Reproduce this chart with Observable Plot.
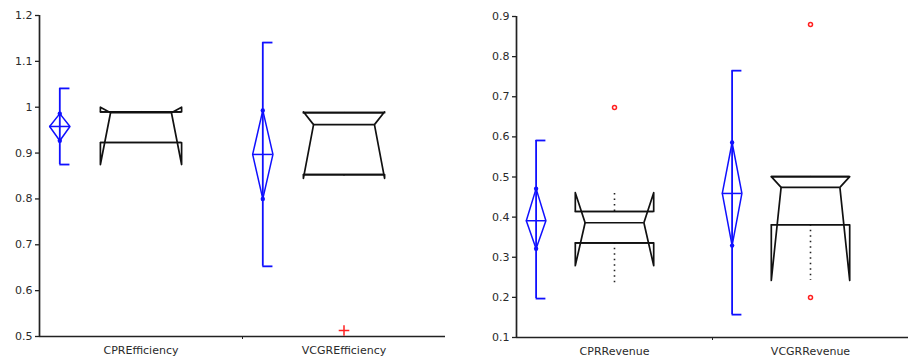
<!DOCTYPE html>
<html>
<head>
<meta charset="utf-8">
<script src="https://cdn.jsdelivr.net/npm/d3@7"></script>
<script src="https://cdn.jsdelivr.net/npm/@observablehq/plot@0.6"></script>
<style>
  html, body { margin: 0; padding: 0; background: #fff; }
  #wrap { display: flex; width: 909px; height: 364px; }
</style>
</head>
<body>
<div id="wrap"></div>
<script>
// ---- Efficiency panel data ----
const effCats = ["CPREfficiency", "VCGREfficiency"];
const effMean = [0.958, 0.897];
const effMeanLo = [0.927, 0.800];
const effMeanHi = [0.986, 0.993];
const effCiLo = [0.875, 0.653];
const effCiHi = [1.041, 1.141];
const effQ1 = [0.923, 0.853];
const effMedian = [0.988, 0.962];
const effQ3 = [0.990, 0.988];
const effNotchLo = [0.875, 0.845];
const effNotchHi = [1.000, 0.990];
const effWhiskLo = [0.923, 0.845];
const effWhiskHi = [0.990, 0.988];
const effOutCat = [1];
const effOutVal = [0.513];
const effTicks = [0.5, 0.6, 0.7, 0.8, 0.9, 1.0, 1.1, 1.2];

// ---- Revenue panel data ----
const revCats = ["CPRRevenue", "VCGRRevenue"];
const revMean = [0.391, 0.459];
const revMeanLo = [0.321, 0.329];
const revMeanHi = [0.471, 0.586];
const revCiLo = [0.197, 0.157];
const revCiHi = [0.591, 0.765];
const revQ1 = [0.336, 0.381];
const revMedian = [0.386, 0.474];
const revQ3 = [0.414, 0.501];
const revNotchLo = [0.279, 0.242];
const revNotchHi = [0.461, 0.501];
const revWhiskLo = [0.234, 0.242];
const revWhiskHi = [0.461, 0.501];
const revOutCat = [0, 1, 1];
const revOutVal = [0.673, 0.880, 0.200];
const revTicks = [0.1, 0.2, 0.3, 0.4, 0.5, 0.6, 0.7, 0.8, 0.9];

function panel(o) {
  const BLUE = "#1010ff";
  const rows = o.cats.map((c, i) => ({
    i, c, x: i + 0.5,
    mean: o.mean[i], mLo: o.mLo[i], mHi: o.mHi[i],
    ciLo: o.ciLo[i], ciHi: o.ciHi[i],
    q1: o.q1[i], med: o.med[i], q3: o.q3[i],
    nLo: o.nLo[i], nHi: o.nHi[i], wLo: o.wLo[i], wHi: o.wHi[i]
  }));
  const dX = -0.4, dw = 0.05, bw = 0.2, nd = 0.05;
  const diamond = rows.flatMap(r => {
    const cx = r.x + dX;
    return [[cx, r.mHi], [cx + dw, r.mean], [cx, r.mLo], [cx - dw, r.mean], [cx, r.mHi]]
      .map(([px, py]) => ({i: r.i, px, py}));
  });
  const box = rows.flatMap(r => {
    const L = r.x - bw, R = r.x + bw;
    return [[L, r.q1], [L, r.nLo], [L + nd, r.med], [L, r.nHi], [L, r.q3],
            [R, r.q3], [R, r.nHi], [R - nd, r.med], [R, r.nLo], [R, r.q1], [L, r.q1]]
      .map(([px, py]) => ({i: r.i, px, py}));
  });
  const outs = o.outCat.map((k, j) => ({x: k + 0.5, v: o.outVal[j]}));
  const y0 = o.domain[0];
  return Plot.plot({
    width: o.width, height: 364,
    marginLeft: o.ml, marginRight: o.mr, marginTop: o.mt, marginBottom: o.mb,
    style: {fontFamily: "DejaVu Sans, Verdana, sans-serif", fontSize: "11px", color: "#222", background: "#fff"},
    x: {domain: [0, 2], axis: null},
    y: {domain: o.domain, axis: null},
    marks: [
      Plot.axisY({ticks: o.ticks, tickSize: 4, tickPadding: 3, tickFormat: d => String(+d.toFixed(1)), stroke: "#222", strokeWidth: 1.3, fontSize: 11, fill: "#2a2a2a"}),
      Plot.ruleX([0], {stroke: "#222", strokeWidth: 1.7}),
      Plot.ruleY([y0], {stroke: "#222", strokeWidth: 1.7}),
      Plot.axisX({ticks: [1], tickSize: 3, tickFormat: () => "", stroke: "#222"}),
      Plot.axisX({ticks: [0.5, 1.5], tickSize: 0, tickPadding: 10, tickFormat: d => o.cats[Math.floor(d)], fontSize: 11, fill: "#2a2a2a"}),
      // blue CI whisker
      Plot.ruleX(rows, {x: r => r.x + dX, y1: "ciLo", y2: "ciHi", stroke: BLUE, strokeWidth: 1.8}),
      Plot.ruleY(rows, {y: "ciLo", x1: r => r.x + dX, x2: r => r.x + dX + dw, stroke: BLUE, strokeWidth: 1.8}),
      Plot.ruleY(rows, {y: "ciHi", x1: r => r.x + dX, x2: r => r.x + dX + dw, stroke: BLUE, strokeWidth: 1.8}),
      // mean diamond
      Plot.line(diamond, {x: "px", y: "py", z: "i", stroke: BLUE, strokeWidth: 1.5, curve: "linear"}),
      Plot.ruleY(rows, {y: "mean", x1: r => r.x + dX - dw, x2: r => r.x + dX + dw, stroke: BLUE, strokeWidth: 1.5}),
      Plot.dot(rows, {x: r => r.x + dX, y: "mHi", r: 2.2, fill: BLUE}),
      Plot.dot(rows, {x: r => r.x + dX, y: "mLo", r: 2.2, fill: BLUE}),
      // dotted whiskers
      Plot.ruleX(rows, {x: "x", y1: "q3", y2: "wHi", stroke: "#222", strokeWidth: 1.6, strokeDasharray: "1.5,4"}),
      Plot.ruleX(rows, {x: "x", y1: "q1", y2: "wLo", stroke: "#222", strokeWidth: 1.6, strokeDasharray: "1.5,4"}),
      // notched box
      Plot.line(box, {x: "px", y: "py", z: "i", stroke: "#111", strokeWidth: 1.7, curve: "linear"}),
      Plot.ruleY(rows, {y: "q3", x1: r => r.x - bw, x2: r => r.x + bw, stroke: "#111", strokeWidth: 1.7}),
      Plot.ruleY(rows, {y: "q1", x1: r => r.x - bw, x2: r => r.x + bw, stroke: "#111", strokeWidth: 1.7}),
      Plot.ruleY(rows, {y: "med", x1: r => r.x - bw + nd, x2: r => r.x + bw - nd, stroke: "#111", strokeWidth: 1.7}),
      // outliers
      Plot.dot(outs, {x: "x", y: "v", symbol: o.outSymbol, r: o.outR, stroke: "#ff2020", strokeWidth: 1.5})
    ]
  });
}

const wrap = document.getElementById("wrap");
wrap.appendChild(panel({
  cats: effCats, mean: effMean, mLo: effMeanLo, mHi: effMeanHi, ciLo: effCiLo, ciHi: effCiHi,
  q1: effQ1, med: effMedian, q3: effQ3, nLo: effNotchLo, nHi: effNotchHi, wLo: effWhiskLo, wHi: effWhiskHi,
  outCat: effOutCat, outVal: effOutVal, outSymbol: "plus", outR: 3.5,
  domain: [0.5, 1.2], ticks: effTicks, width: 455, ml: 39, mr: 10, mt: 15, mb: 28
}));
wrap.appendChild(panel({
  cats: revCats, mean: revMean, mLo: revMeanLo, mHi: revMeanHi, ciLo: revCiLo, ciHi: revCiHi,
  q1: revQ1, med: revMedian, q3: revQ3, nLo: revNotchLo, nHi: revNotchHi, wLo: revWhiskLo, wHi: revWhiskHi,
  outCat: revOutCat, outVal: revOutVal, outSymbol: "circle", outR: 2,
  domain: [0.1, 0.9], ticks: revTicks, width: 454, ml: 61, mr: 1, mt: 16, mb: 27
}));
</script>
</body>
</html>
